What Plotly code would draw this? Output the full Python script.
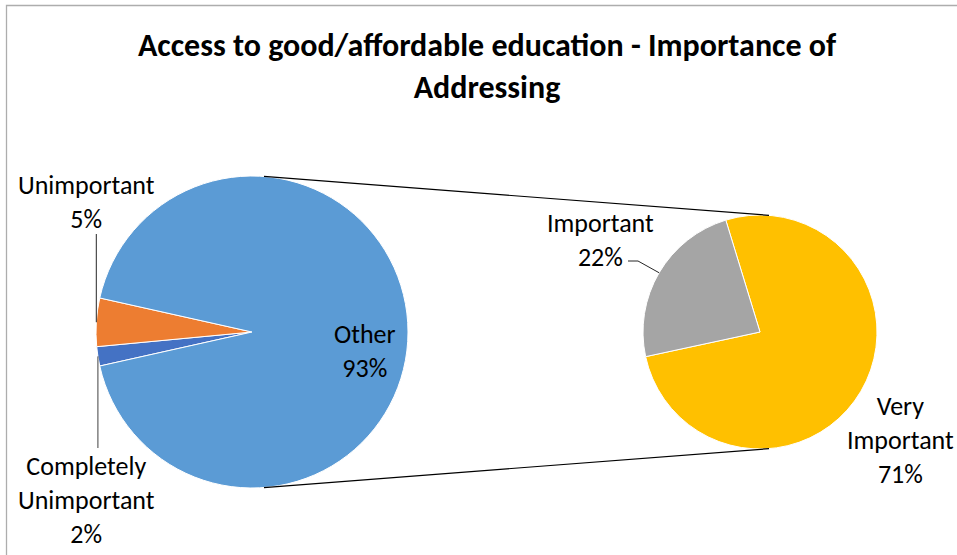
import math
import plotly.graph_objects as go

W, H = 957, 555

title_text = "Access to good/affordable education - Importance of<br>Addressing"

# primary pie: the two small categories plus the combined "Other" slice
main_labels = ["Completely Unimportant", "Unimportant", "Other"]
main_values = [2, 5, 93]
main_colors = ["#4472C4", "#ED7D31", "#5B9BD5"]

# secondary pie: breakdown of "Other"
sub_labels = ["Very Important", "Important"]
sub_values = [71, 22]
sub_colors = ["#FFC000", "#A5A5A5"]

# pie placement in pixels (centre x, centre y, radius)
MAIN = (252.0, 332.0, 156.0)
SUB = (760.0, 332.0, 117.0)

FONT = "Calibri, Carlito, Lato, sans-serif"
TEXT_COLOR = "#000000"
LABEL_SIZE = 26
TITLE_SIZE = 32


def px(x):
    return x / W


def py(y):
    return 1 - y / H


def domain(c):
    cx, cy, r = c
    return dict(x=[px(cx - r), px(cx + r)], y=[py(cy + r), py(cy - r)])


def arc_point(c, math_deg):
    cx, cy, r = c
    a = math.radians(math_deg)
    return cx + r * math.cos(a), cy - r * math.sin(a)


# the small slices are centred on the west side of the primary pie
main_total = sum(main_values)
small_span = sum(main_values[:2]) / main_total * 360
main_rotation = 270 - small_span / 2          # clockwise from 12 o'clock
sub_rotation = -17

fig = go.Figure()
fig.add_trace(go.Pie(
    labels=main_labels, values=main_values, sort=False, direction="clockwise",
    rotation=main_rotation, domain=domain(MAIN), textinfo="none",
    marker=dict(colors=main_colors, line=dict(color="white", width=1)),
    showlegend=False, hoverinfo="label+percent",
))
fig.add_trace(go.Pie(
    labels=sub_labels, values=sub_values, sort=False, direction="clockwise",
    rotation=sub_rotation, domain=domain(SUB), textinfo="none",
    marker=dict(colors=sub_colors, line=dict(color="white", width=1)),
    showlegend=False, hoverinfo="label+percent",
))


# slice mid-angles (math convention, counter-clockwise from east)
def mid_angles(values, rotation):
    total = sum(values)
    start = 90 - rotation
    out = []
    for v in values:
        span = v / total * 360
        out.append(start - span / 2)
        start -= span
    return out


main_mid = mid_angles(main_values, main_rotation)
sub_mid = mid_angles(sub_values, sub_rotation)

shapes = []


def line(x0, y0, x1, y1, color="#000000", width=1):
    shapes.append(dict(type="line", xref="paper", yref="paper",
                       x0=px(x0), y0=py(y0), x1=px(x1), y1=py(y1),
                       line=dict(color=color, width=width)))


# outer tangent lines joining the two pies
(c1x, c1y, r1), (c2x, c2y, r2) = MAIN, SUB
d = c2x - c1x
t = math.asin((r1 - r2) / d)
for sgn in (-1, 1):
    x0 = c1x + r1 * math.sin(t)
    y0 = c1y + sgn * r1 * math.cos(t)
    x1 = c2x + r2 * math.sin(t)
    y1 = c2y + sgn * r2 * math.cos(t)
    line(x0, y0, x1, y1, "#000000", 1.2)

# leader lines for the small slices
ux, uy = arc_point(MAIN, main_mid[1])
line(ux, uy, ux, 234, "#262626", 1)
cx_, cy_ = arc_point(MAIN, main_mid[0])
line(cx_, cy_, cx_, 448, "#404040", 1)
ix, iy = arc_point(SUB, sub_mid[1])
line(628, 261, 638, 261, "#262626", 1)
line(638, 261, ix, iy, "#262626", 1)

# chart frame
shapes.append(dict(type="rect", xref="paper", yref="paper",
                   x0=px(6.5), y0=py(H + 20), x1=px(W + 20), y1=py(5.5),
                   line=dict(color="#ADADAD", width=1.3)))


def pct(v):
    return f"{round(v / main_total * 100)}%"


label_specs = [
    ("Unimportant<br>" + pct(main_values[1]), 86.5, 202),
    ("Completely<br>Unimportant<br>" + pct(main_values[0]), 86.5, 500),
    ("Other<br>" + pct(main_values[2]), 365, 351),
    ("Important<br>" + pct(sub_values[1]), 600, 240),
    ("Very<br>Important<br>" + pct(sub_values[0]), 900, 440),
]
annotations = [
    dict(text=txt, x=px(x), y=py(y), xref="paper", yref="paper",
         xanchor="center", yanchor="middle", showarrow=False, align="center",
         font=dict(family=FONT, size=LABEL_SIZE, color=TEXT_COLOR))
    for txt, x, y in label_specs
]

fig.update_layout(
    width=W, height=H,
    margin=dict(l=0, r=0, t=0, b=0),
    paper_bgcolor="white", plot_bgcolor="white",
    title=dict(text="<b>" + title_text + "</b>", x=px(487), xanchor="center",
               y=py(56), yanchor="middle", yref="container",
               font=dict(family=FONT, size=TITLE_SIZE, color=TEXT_COLOR)),
    shapes=shapes, annotations=annotations,
)

fig.write_html("out.html")
